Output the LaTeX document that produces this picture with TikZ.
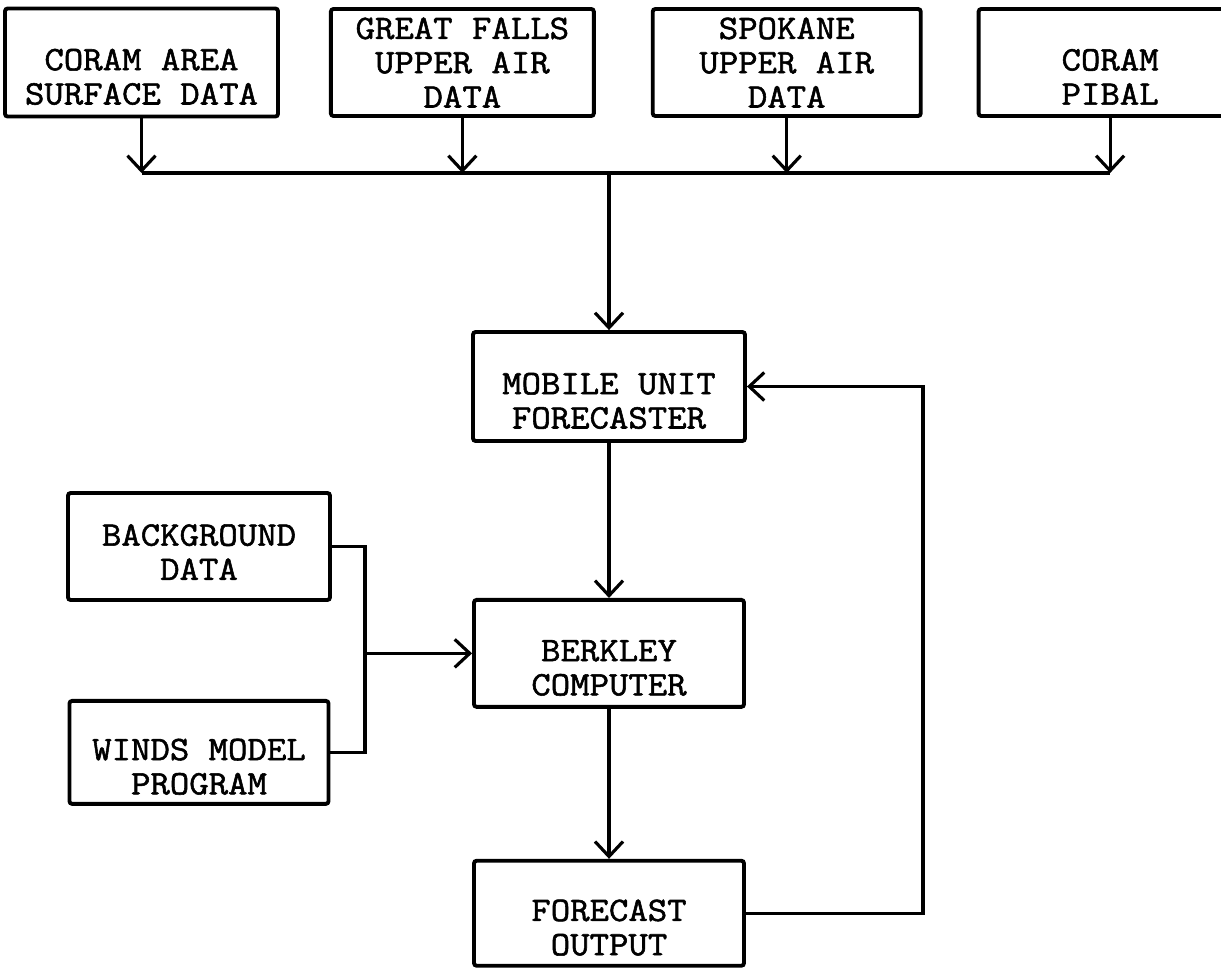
\documentclass[tikz,border=0pt]{standalone}
\usepackage{fontspec}
\newfontfamily\typewriter{Latin Modern Mono}[FakeBold=1.6, FakeStretch=1.1]
\usepackage{tikz}
\usetikzlibrary{
  arrows.meta,
  positioning,
  calc
}
\tikzset{
  flowbox/.style={
    draw=black,
    line width=2.2pt,
    rounded corners=1.5pt,
    align=center,
    font=\typewriter\fontsize{19.5}{19.5}\selectfont,
    minimum width=5.4cm,
    minimum height=2.14cm,
    inner sep=2pt
  },
  % two-line boxes sit their text a little low
  lowtext/.style={text height=48pt},
  flowarrow/.style={
    -{Straight Barb[length=3mm, width=5.6mm]},
    line width=1.8pt
  },
  flowline/.style={line width=1.8pt}
}

\begin{document}
\begin{tikzpicture}[node distance=1cm and 1cm]
  \useasboundingbox (0,0) rectangle (24.42,-19.42);
  % sources
  \node[flowbox, lowtext, minimum width=5.46cm, minimum height=2.16cm] (coram) at (2.83,-1.25) {CORAM AREA\\SURFACE DATA};
  \node[flowbox, minimum width=5.26cm, right=0.98cm of coram] (gfalls) {GREAT FALLS\\UPPER AIR\\DATA};
  \node[flowbox, minimum width=5.36cm, right=1.1cm of gfalls] (spokane) {SPOKANE\\UPPER AIR\\DATA};
  \node[flowbox, lowtext, minimum width=5.26cm, right=1.08cm of spokane] (pibal) {CORAM\\PIBAL};
  \coordinate (bus) at (0,-3.46);
  \draw[flowline] (coram.south |- bus) -- (pibal.south |- bus);
  \foreach \src in {coram, gfalls, spokane, pibal}
    \draw[flowarrow] (\src.south) -- (\src.south |- bus);
  % main chain
  \node[flowbox, lowtext, minimum width=5.44cm, minimum height=2.18cm] (mobile) at (12.18,-7.73) {MOBILE UNIT\\FORECASTER};
  \node[flowbox, lowtext, below=3.1cm of mobile] (berkley) {BERKLEY\\COMPUTER};
  \node[flowbox, lowtext, minimum height=2.1cm, below=3.0cm of berkley] (forecast) {FORECAST\\OUTPUT};
  \draw[flowarrow] (mobile.north |- bus) -- (mobile.north);
  \draw[flowarrow] (mobile) -- (berkley);
  \draw[flowarrow] (berkley) -- (forecast);
  % inputs to the computer
  \node[flowbox, text height=38pt, minimum width=5.24cm] (background) at (3.98,-10.93) {BACKGROUND\\DATA};
  \node[flowbox, lowtext, minimum width=5.18cm, minimum height=2.06cm, below=1.94cm of background] (winds) {WINDS MODEL\\PROGRAM};
  \coordinate (join) at (7.3,0);
  \draw[flowline] (background.east) -| (join |- winds.east) -- (winds.east);
  \draw[flowarrow] (join |- berkley.west) -- (berkley.west);
  % feedback
  \coordinate (loop) at (18.46,0);
  \draw[flowarrow] (forecast.east) -| (loop |- mobile.east) -- (mobile.east);
\end{tikzpicture}
\end{document}
